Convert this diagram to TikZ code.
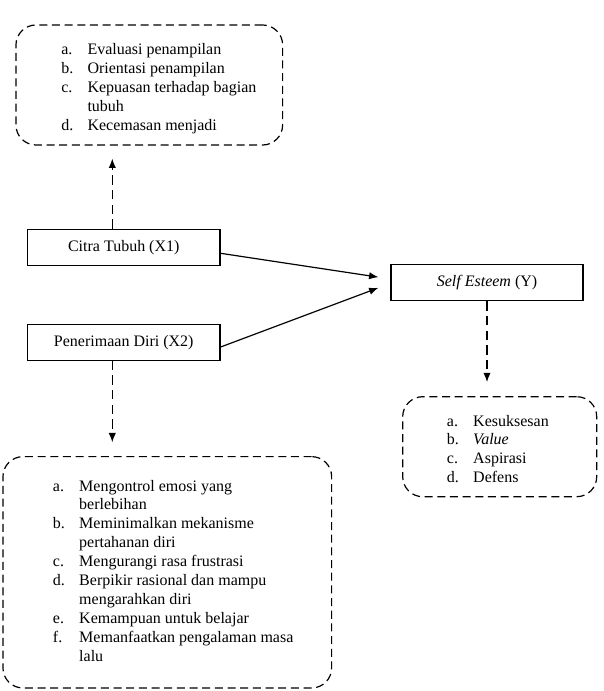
\documentclass[tikz,border=0pt]{standalone}
\usepackage{fontspec}
\setmainfont{Liberation Serif}
\usetikzlibrary{arrows.meta}

\begin{document}
\begin{tikzpicture}[x=0.75pt, y=-0.75pt,
    font=\fontsize{12}{14.2}\selectfont,
    varbox/.style={draw, line width=0.9pt, inner sep=0pt, minimum width=144.4pt, minimum height=27pt},
    indbox/.style={draw, dash pattern=on 6pt off 3.5pt, line width=0.9pt, rounded corners=15pt, inner sep=0pt},
    itemlist/.style={inner sep=0pt, anchor=base west, align=left},
    dasharrow/.style={-{Latex[length=7pt,width=5.5pt]}, dash pattern=on 7pt off 4pt, line width=0.9pt},
    solidarrow/.style={-{Latex[length=7pt,width=5.5pt]}, line width=0.9pt}]
    \useasboundingbox (0,0) rectangle (603,691);

    % variables
    \node[varbox] (citra) at (123.75,247.3) {Citra Tubuh (X1)};
    \node[varbox] (terima) at (123.75,342.2) {Penerimaan Diri (X2)};
    \node[varbox, minimum width=144pt, minimum height=27.5pt] (self) at (487,282.5) {\textit{Self Esteem} (Y)};

    % indicator boxes
    \node[indbox, minimum width=200pt, minimum height=90pt] (indX1) at (149.3,85) {};
    \node[indbox, minimum width=145.5pt, minimum height=75pt] (indY) at (499.7,446.7) {};
    \node[indbox, minimum width=246.5pt, minimum height=173.5pt] (indX2) at (167.3,572.3) {};

    \node[itemlist] (listX1) at (61,54.5) {\begin{tabular}[t]{@{}p{19.7pt}@{}l@{}}
        a. & Evaluasi penampilan\\
        b. & Orientasi penampilan\\
        c. & Kepuasan terhadap bagian\\
           & tubuh\\
        d. & Kecemasan menjadi
    \end{tabular}};
    \node[itemlist] (listY) at (446.7,426) {\begin{tabular}[t]{@{}p{19.7pt}@{}l@{}}
        a. & Kesuksesan\\
        b. & \textit{Value}\\
        c. & Aspirasi\\
        d. & Defens
    \end{tabular}};
    \node[itemlist] (listX2) at (52.7,491) {\begin{tabular}[t]{@{}p{19.7pt}@{}l@{}}
        a. & Mengontrol emosi yang\\
           & berlebihan\\
        b. & Meminimalkan mekanisme\\
           & pertahanan diri\\
        c. & Mengurangi rasa frustrasi\\
        d. & Berpikir rasional dan mampu\\
           & mengarahkan diri\\
        e. & Kemampuan untuk belajar\\
        f. & Memanfaatkan pengalaman masa\\
           & lalu
    \end{tabular}};

    % connectors
    \coordinate (c1) at ([xshift=-8.6pt]citra.north);
    \coordinate (c2) at ([xshift=-8.6pt]terima.south);
    \draw[dasharrow, shorten >=9.75pt] (c1) -- (c1 |- indX1.south);
    \draw[dasharrow, shorten >=10.3pt] (c2) -- (c2 |- indX2.north);
    \draw[dasharrow, shorten >=10.5pt] (self.south) -- (self.south |- indY.north);
    \draw[solidarrow] ([yshift=-4.5pt]citra.east) -- ([xshift=-9pt,yshift=4pt]self.west);
    \draw[solidarrow] ([yshift=-3.6pt]terima.east) -- ([xshift=-9pt,yshift=-4pt]self.west);
\end{tikzpicture}
\end{document}
